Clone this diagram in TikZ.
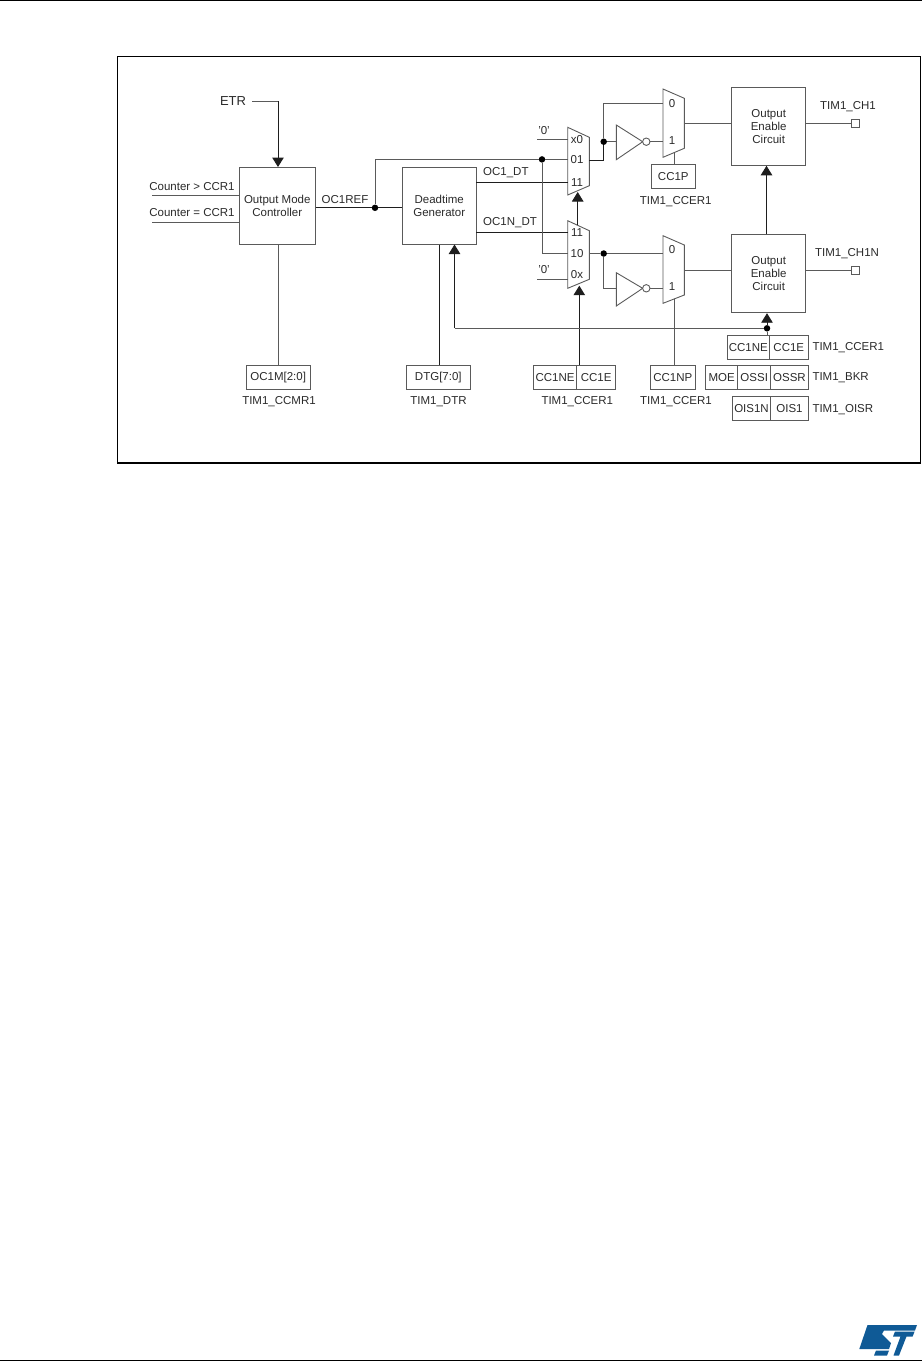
\documentclass[tikz,border=0pt]{standalone}
\usepackage{fontspec}
\setmainfont{Liberation Sans}
\usetikzlibrary{arrows.meta}
\definecolor{wiregray}{HTML}{5A5A5A}
\definecolor{wiredark}{HTML}{1E1E1E}
\definecolor{txt}{HTML}{2A2A2A}
\definecolor{stblue}{HTML}{0F5A96}
\tikzset{
  wire/.style={draw=wiregray,line width=0.9pt},
  wired/.style={draw=wiredark,line width=1pt},
  arr/.style={-{Triangle[length=9.5pt,width=11.5pt,sep=0pt]},color=wiredark},
  dotn/.style={circle,fill=black,inner sep=0pt,minimum size=6.5pt},
  box/.style={draw=wiregray,line width=1pt,inner sep=0pt,align=center,text=txt,font=\fontsize{11.5}{13}\selectfont},
  reg/.style={box,minimum height=24.3pt},
  lab/.style={inner sep=0pt,text=txt,font=\fontsize{11.5}{13}\selectfont},
  bubble/.style={circle,draw=wiregray,fill=white,line width=0.9pt,inner sep=0pt,minimum size=7.4pt},
  pin/.style={draw=wiregray,line width=0.8pt,inner sep=0pt,minimum width=7.3pt,minimum height=7.8pt},
}
\begin{document}
\begin{tikzpicture}[x=1pt,y=-1pt]
\useasboundingbox (0,0) rectangle (922,1361);
% page furniture
\fill[black] (0,0) rectangle (922,1.2);
\fill[black] (0,1359.6) rectangle (922,1361);
\draw[draw=black,line width=1.2pt] (117.6,56.6) rectangle (920.5,463);
% main boxes
\node[box,minimum width=75.5pt,minimum height=76.5pt] (omc) at (277.25,205.75) {Output Mode\\Controller};
\node[box,minimum width=74.5pt,minimum height=76.5pt] (dtg) at (439.25,205.75) {Deadtime\\Generator};
\node[box,minimum width=74pt,minimum height=78pt] (oec1) at (768.7,126.3) {Output\\Enable\\Circuit};
\node[box,minimum width=74pt,minimum height=78.4pt] (oec2) at (768.7,273.5) {Output\\Enable\\Circuit};
% register boxes
\node[reg,minimum width=64.3pt] (ocm) at (278.2,377.2) {OC1M[2:0]};
\node[reg,minimum width=64pt] (dtgr) at (438.3,377.2) {DTG[7:0]};
\node[reg,minimum width=43.4pt] (ne1) at (555,377.2) {CC1NE};
\node[reg,minimum width=39pt] (e1) at (596.2,377.2) {CC1E};
\node[reg,minimum width=45pt] (np) at (672.8,377.2) {CC1NP};
\node[reg,minimum width=44pt] (cp) at (673.3,176.5) {CC1P};
\node[reg,minimum width=42pt] (ne2) at (748.3,347.5) {CC1NE};
\node[reg,minimum width=39pt] (e2) at (788.8,347.5) {CC1E};
\node[reg,minimum width=32pt] (moe) at (721.7,377.2) {MOE};
\node[reg,minimum width=33pt] (ossi) at (754.2,377.2) {OSSI};
\node[reg,minimum width=37.6pt] (ossr) at (789.5,377.2) {OSSR};
\node[reg,minimum width=38.4pt] (ois1n) at (751.5,408.5) {OIS1N};
\node[reg,minimum width=37.6pt] (ois1) at (789.5,408.5) {OIS1};
% labels
\node[lab,font=\fontsize{13}{15}\selectfont] (etr) at (233,101) {ETR};
\node[lab] (cgt) at (192,187) {Counter > CCR1};
\node[lab] (ceq) at (192,213) {Counter = CCR1};
\node[lab] (ocref) at (345,200) {OC1REF};
\node[lab,anchor=west] (odt) at (483,173) {OC1\_DT};
\node[lab,anchor=west] (ondt) at (483,223) {OC1N\_DT};
\node[lab] (t1) at (279,402) {TIM1\_CCMR1};
\node[lab] (t2) at (438.5,402) {TIM1\_DTR};
\node[lab] (t3) at (577.3,402) {TIM1\_CCER1};
\node[lab] (t4) at (676,402) {TIM1\_CCER1};
\node[lab] (t5) at (675.7,202) {TIM1\_CCER1};
\node[lab,anchor=west] (t6) at (812.3,348) {TIM1\_CCER1};
\node[lab,anchor=west] (t7) at (812.3,378) {TIM1\_BKR};
\node[lab,anchor=west] (t8) at (812.3,410) {TIM1\_OISR};
\node[lab] (ch1) at (848,106.7) {TIM1\_CH1};
\node[lab] (ch1n) at (847,254) {TIM1\_CH1N};
\node[lab] (z1) at (544,131) {'0'};
\node[lab] (z2) at (544,270) {'0'};
% multiplexers
\coordinate (m1a) at (567.7,127.3); \coordinate (m1b) at (589.3,137.3); \coordinate (m1c) at (589.3,185.7); \coordinate (m1d) at (567.7,195);
\coordinate (m2a) at (567.7,220.7); \coordinate (m2b) at (589.3,230.7); \coordinate (m2c) at (589.3,279.3); \coordinate (m2d) at (567.7,288.3);
\coordinate (m3a) at (663,89); \coordinate (m3b) at (684.3,98.3); \coordinate (m3c) at (684.3,148.3); \coordinate (m3d) at (663,157.3);
\coordinate (m4a) at (663,235.7); \coordinate (m4b) at (684.3,245); \coordinate (m4c) at (684.3,295); \coordinate (m4d) at (663,303.3);
\draw[wire] (m1a)--(m1b)--(m1c)--(m1d)--cycle;
\draw[wire] (m2a)--(m2b)--(m2c)--(m2d)--cycle;
\draw[wire] (m3a)--(m3b)--(m3c)--(m3d)--cycle;
\draw[wire] (m4a)--(m4b)--(m4c)--(m4d)--cycle;
\node[lab] (m1x0) at (577,140) {x0};
\node[lab] (m1o1) at (577,159.5) {01};
\node[lab] (m1e1) at (577,182.5) {11};
\node[lab] (m2e1) at (577,233) {11};
\node[lab] (m2e0) at (577,254) {10};
\node[lab] (m2ox) at (577,275) {0x};
\node[lab] (m3z) at (672,103.5) {0};
\node[lab] (m3o) at (672,141) {1};
\node[lab] (m4z) at (672,250) {0};
\node[lab] (m4o) at (672,287) {1};
% inverters
\coordinate (i1a) at (616.3,125); \coordinate (i1b) at (616.3,159.7); \coordinate (i1t) at (642.7,141.7);
\coordinate (i2a) at (616.3,272.7); \coordinate (i2b) at (616.3,306); \coordinate (i2t) at (642.7,288.3);
\draw[wire] (i1a)--(i1t)--(i1b)--cycle;
\draw[wire] (i2a)--(i2t)--(i2b)--cycle;
\node[bubble] (b1) at (646.3,141.7) {};
\node[bubble] (b2) at (646.3,288.3) {};
% output pins
\node[pin] (p1) at (855.3,123.4) {};
\node[pin] (p2) at (855.3,270) {};
% junctions
\node[dotn] (j1) at (375,207.8) {};
\node[dotn] (j2) at (542,159.4) {};
\node[dotn] (j3) at (603.7,141.7) {};
\node[dotn] (j4) at (603.7,253.5) {};
\node[dotn] (j5) at (767,328.3) {};
% free ends and corners
\coordinate (etrs) at (252,101);
\coordinate (etrc) at (278,101);
\coordinate (c1s) at (152,195);
\coordinate (c2s) at (152,222.5);
\coordinate (odty) at (476,182);
\coordinate (ondty) at (476,232.6);
\coordinate (ref) at (375,159.4);
\coordinate (m1in) at (567.7,159.4);
\coordinate (m2in) at (567.7,253.5);
\coordinate (z1s) at (537,139.3);
\coordinate (z2s) at (537,279.3);
\coordinate (m1o) at (589.3,160.2);
\coordinate (m3in) at (663,103);
\coordinate (m3s) at (674.5,152.8);
\coordinate (m4s) at (674.5,299);
\coordinate (m3out) at (684.3,123.4);
\coordinate (m4out) at (684.3,270);
\coordinate (m2s) at (577.7,225);
\coordinate (m1tip) at (577.7,192);
\coordinate (m2tip) at (579.3,285.7);
\coordinate (e1w) at (579.3,365);
\coordinate (oeu) at (766.5,234.3);
\coordinate (fb) at (454.5,328.3);
% connectors
\draw[wire] (etrs) -- (etrc);
\draw[wired,arr] (etrc) -- (etrc |- omc.north);
\draw[wire] (c1s) -- (c1s -| omc.west);
\draw[wire] (c2s) -- (c2s -| omc.west);
\draw[wired] (omc.east |- j1) -- (j1) -- (j1 -| dtg.west);
\draw[wire] (j1) -- (ref) -- (j2) -- (m1in);
\draw[wired] (odty) -- (m1d |- odty);
\draw[wired] (ondty) -- (m2a |- ondty);
\draw[wire] (j2) |- (m2in);
\draw[wire] (z1s) -- (z1s -| m1a);
\draw[wire] (z2s) -- (z2s -| m2a);
\draw[wired] (m1o) -| (j3);
\draw[wire] (j3) |- (m3in);
\draw[wire] (j3) -- (i1a |- j3);
\draw[wire] (b1) -- (b1 -| m3a);
\draw[wire] (m2in -| m2b) -- (j4) -- (j4 -| m4a);
\draw[wire] (j4) |- (i2t -| i2a);
\draw[wire] (b2) -- (b2 -| m4a);
\draw[wire] (m3out) -- (m3out -| oec1.west);
\draw[wire] (m4out) -- (m4out -| oec2.west);
\draw[wire] (oec1.east |- p1) -- (p1);
\draw[wire] (oec2.east |- p2) -- (p2);
\draw[wire] (m3s) -- (m3s |- cp.north);
\draw[wire] (m4s) -- (m4s |- np.north);
\draw[wire,arr] (m2s) -- (m1tip);
\draw[wire,arr] (e1w) -- (m2tip);
\draw[wire,arr] (oeu) -- (oeu |- oec1.south);
\draw[wire] (etrc |- omc.south) -- (etrc |- ocm.north);
\draw[wired] (dtgr.north -| dtg.center) -- (dtg.south);
\draw[wire] (j5) -- (fb);
\draw[wire,arr] (fb) -- (fb |- dtg.south);
\draw[wire,arr] (j5) -- (j5 |- oec2.south);
\draw[wire] (j5) -- (j5 |- ne2.north);
% ST logo
\fill[stblue] (867.5,1325) -- (917,1325) -- (915,1330.5) -- (884,1330.5) -- (882,1334) -- (891,1343) -- (889,1349) -- (859.3,1349) -- cycle;
\fill[stblue] (895,1331.5) -- (914.6,1331.5) -- (912.6,1336.5) -- (906.5,1336.5) -- (899,1355.5) -- (893.5,1355.5) -- (900.5,1336.5) -- (893,1336.5) -- cycle;
\fill[stblue] (876,1350.5) -- (889,1350.5) -- (887,1355.5) -- (874,1355.5) -- cycle;
\end{tikzpicture}
\end{document}
